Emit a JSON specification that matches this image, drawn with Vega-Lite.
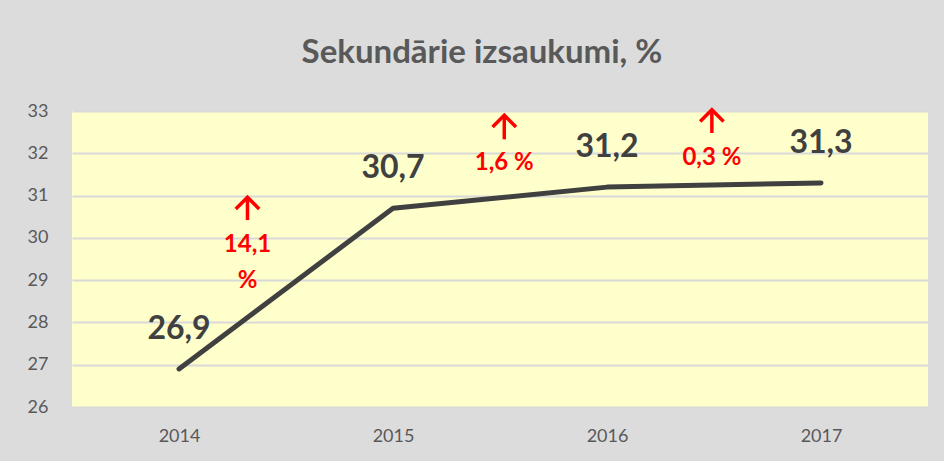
{
  "$schema": "https://vega.github.io/schema/vega-lite/v6.json",
  "width": 856,
  "height": 296,
  "autosize": {"type": "none"},
  "padding": {"left": 72, "top": 111, "right": 16, "bottom": 54},
  "background": "#DCDCDD",
  "title": {"text": "Sekundārie izsaukumi, %", "font": "Lato", "fontSize": 33, "fontWeight": "bold", "color": "#595959", "offset": 32, "dx": -18},
  "config": {
    "view": {"stroke": null, "fill": "#FFFFCC"},
    "font": "Lato"
  },
  "datasets": {
    "series": [
      {"year": 2014, "value": 26.9, "label": "26,9"},
      {"year": 2015, "value": 30.7, "label": "30,7"},
      {"year": 2016, "value": 31.2, "label": "31,2"},
      {"year": 2017, "value": 31.3, "label": "31,3"}
    ],
    "notes": [
      {"pos": 2014.32, "level": 29.83, "text": "14,1"},
      {"pos": 2014.32, "level": 28.98, "text": "%"},
      {"pos": 2015.52, "level": 31.77, "text": "1,6 %"},
      {"pos": 2016.49, "level": 31.89, "text": "0,3 %"}
    ],
    "arrows": [
      {"pos": 2014.32, "top": 30.96, "bottom": 30.42},
      {"pos": 2015.52, "top": 32.9, "bottom": 32.33},
      {"pos": 2016.49, "top": 33.03, "bottom": 32.48}
    ]
  },
  "layer": [
    {
      "data": {"name": "series"},
      "mark": {"type": "line", "color": "#404040", "strokeWidth": 5, "strokeCap": "round", "strokeJoin": "round"},
      "encoding": {
        "x": {"field": "year", "type": "quantitative", "scale": {"domain": [2013.5, 2017.5], "nice": false, "zero": false},
              "axis": {"values": [2014, 2015, 2016, 2017], "format": "d", "title": null, "grid": false, "domain": false, "ticks": false, "labelPadding": 20, "labelFontSize": 18, "labelColor": "#595959", "labelFont": "Lato"}},
        "y": {"field": "value", "type": "quantitative", "scale": {"domain": [26, 33], "nice": false, "zero": false},
              "axis": {"values": [26, 27, 28, 29, 30, 31, 32, 33], "title": null, "grid": true, "gridColor": "#D9D9D9", "gridWidth": 2, "domain": false, "ticks": false, "labelPadding": 24, "labelFontSize": 18, "labelColor": "#595959", "labelFont": "Lato"}}
      }
    },
    {
      "data": {"name": "series"},
      "mark": {"type": "text", "font": "Lato", "fontSize": 32, "fontWeight": "bold", "color": "#404040", "dy": -40, "baseline": "middle"},
      "encoding": {
        "x": {"field": "year", "type": "quantitative"},
        "y": {"field": "value", "type": "quantitative"},
        "text": {"field": "label"}
      }
    },
    {
      "data": {"name": "notes"},
      "mark": {"type": "text", "font": "Lato", "fontSize": 24, "fontWeight": "bold", "color": "#FF0000", "baseline": "middle"},
      "encoding": {
        "x": {"field": "pos", "type": "quantitative"},
        "y": {"field": "level", "type": "quantitative"},
        "text": {"field": "text"}
      }
    },
    {
      "data": {"name": "arrows"},
      "mark": {"type": "rule", "color": "#FF0000", "strokeWidth": 3.5},
      "encoding": {
        "x": {"field": "pos", "type": "quantitative"},
        "y": {"field": "top", "type": "quantitative"},
        "y2": {"field": "bottom"}
      }
    },
    {
      "data": {"name": "arrows"},
      "mark": {"type": "point", "shape": "M-1,1L0,0L1,1", "filled": false, "color": "#FF0000", "strokeWidth": 3.5, "size": 440, "opacity": 1, "strokeCap": "square"},
      "encoding": {
        "x": {"field": "pos", "type": "quantitative"},
        "y": {"field": "top", "type": "quantitative"}
      }
    }
  ]
}
